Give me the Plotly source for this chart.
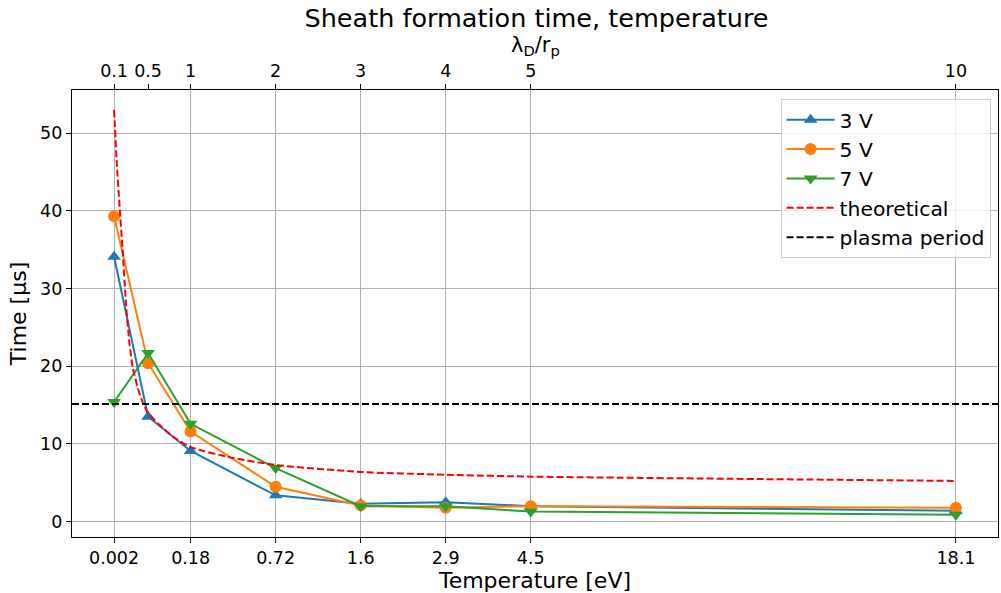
import plotly.graph_objects as go

# lambda_D / r_p positions of measurements
ratio = [0.1, 0.5, 1, 2, 3, 4, 5, 10]
temp_labels = ["0.002", "0.18", "0.72", "1.6", "2.9", "4.5", "18.1"]
temp_tickpos = [0.1, 1, 2, 3, 4, 5, 10]
top_ticks = [0.1, 0.5, 1, 2, 3, 4, 5, 10]
top_labels = ["0.1", "0.5", "1", "2", "3", "4", "5", "10"]

t_3v = [34.1, 13.5, 9.1, 3.4, 2.3, 2.5, 2.0, 1.4]
t_5v = [39.3, 20.4, 11.6, 4.5, 2.1, 1.8, 2.0, 1.8]
t_7v = [15.4, 21.7, 12.6, 6.9, 2.0, 2.0, 1.3, 0.9]

theo_x = [0.1, 0.13, 0.165, 0.2, 0.24, 0.28, 0.32, 0.39, 0.45, 0.5, 0.63, 0.8, 1.0, 1.5, 2, 3, 4, 5, 10]
theo_y = [53.0, 46.5, 40.5, 35.0, 28.0, 23.0, 19.8, 16.8, 15.0, 14.0, 12.5, 10.9, 9.6, 8.2, 7.3, 6.4, 6.05, 5.8, 5.25]

plasma_period = 15.15

BLUE, ORANGE, GREEN = "#1f77b4", "#ff7f0e", "#2ca02c"
FONT = "DejaVu Sans"
XR = [-0.395, 10.495]
YR = [-1.97, 55.56]

fig = go.Figure()
fig.add_trace(go.Scatter(x=ratio, y=t_3v, mode="lines+markers", name="3 V",
                         line=dict(color=BLUE, width=2),
                         marker=dict(symbol="triangle-up", size=12, color=BLUE)))
fig.add_trace(go.Scatter(x=ratio, y=t_5v, mode="lines+markers", name="5 V",
                         line=dict(color=ORANGE, width=2),
                         marker=dict(symbol="circle", size=12, color=ORANGE)))
fig.add_trace(go.Scatter(x=ratio, y=t_7v, mode="lines+markers", name="7 V",
                         line=dict(color=GREEN, width=2),
                         marker=dict(symbol="triangle-down", size=12, color=GREEN)))
fig.add_trace(go.Scatter(x=theo_x, y=theo_y, mode="lines", name="theoretical",
                         line=dict(color="red", width=2, dash="7px,3px", shape="spline", smoothing=0.6)))
fig.add_trace(go.Scatter(x=XR, y=[plasma_period, plasma_period], mode="lines", name="plasma period",
                         line=dict(color="black", width=2, dash="7px,3px")))
# invisible trace to activate top axis
fig.add_trace(go.Scatter(x=[ratio[0]], y=[t_3v[0]], xaxis="x2", mode="markers",
                         marker=dict(opacity=0), showlegend=False, hoverinfo="skip"))
# invisible trace to activate right axis (border)
fig.add_trace(go.Scatter(x=[ratio[0]], y=[t_3v[0]], yaxis="y2", mode="markers",
                         marker=dict(opacity=0), showlegend=False, hoverinfo="skip"))

axis_common = dict(showline=True, linecolor="black", linewidth=1.3, mirror=False,
                   ticks="outside", ticklen=5, tickwidth=1.2, tickcolor="black",
                   zeroline=False, tickfont=dict(family=FONT, size=17.5, color="black"))

fig.update_layout(
    width=1001, height=593,
    margin=dict(l=72, r=3, t=90, b=56),
    plot_bgcolor="white", paper_bgcolor="white",
    font=dict(family=FONT, color="black"),
    title=dict(text="Sheath formation time, temperature", x=0.536, xanchor="center",
               y=1 - 18 / 593, yanchor="middle", yref="container",
               font=dict(family=FONT, size=25.5, color="black")),
    xaxis=dict(range=XR, tickvals=temp_tickpos, ticktext=temp_labels,
               showgrid=True, gridcolor="#b0b0b0", gridwidth=1,
               title=dict(text="Temperature [eV]", font=dict(family=FONT, size=22), standoff=4),
               **axis_common),
    xaxis2=dict(range=XR, overlaying="x", side="top", tickvals=top_ticks, ticktext=top_labels,
                showgrid=False, **axis_common),
    yaxis=dict(range=YR, tickvals=[0, 10, 20, 30, 40, 50],
               showgrid=True, gridcolor="#b0b0b0", gridwidth=1,
               title=dict(text="Time [µs]", font=dict(family=FONT, size=22), standoff=7),
               **axis_common),
    yaxis2=dict(range=YR, overlaying="y", side="right", showline=True, linecolor="black",
                linewidth=1.3, showticklabels=False, ticks="", showgrid=False, zeroline=False),
    legend=dict(x=0.992, xanchor="right", y=0.98, yanchor="top",
                bgcolor="rgba(255,255,255,0.8)", bordercolor="#cccccc", borderwidth=1,
                font=dict(family=FONT, size=20.3, color="black"),
                itemwidth=48, tracegroupgap=2),
    annotations=[dict(text="λ<sub>D</sub>/r<sub>p</sub>", x=0.5, xref="paper",
                      y=1 + 44 / 447, yref="paper", yanchor="middle", xanchor="center",
                      showarrow=False, font=dict(family=FONT, size=21, color="black"))],
    showlegend=True,
)

fig.write_html("out.html")
